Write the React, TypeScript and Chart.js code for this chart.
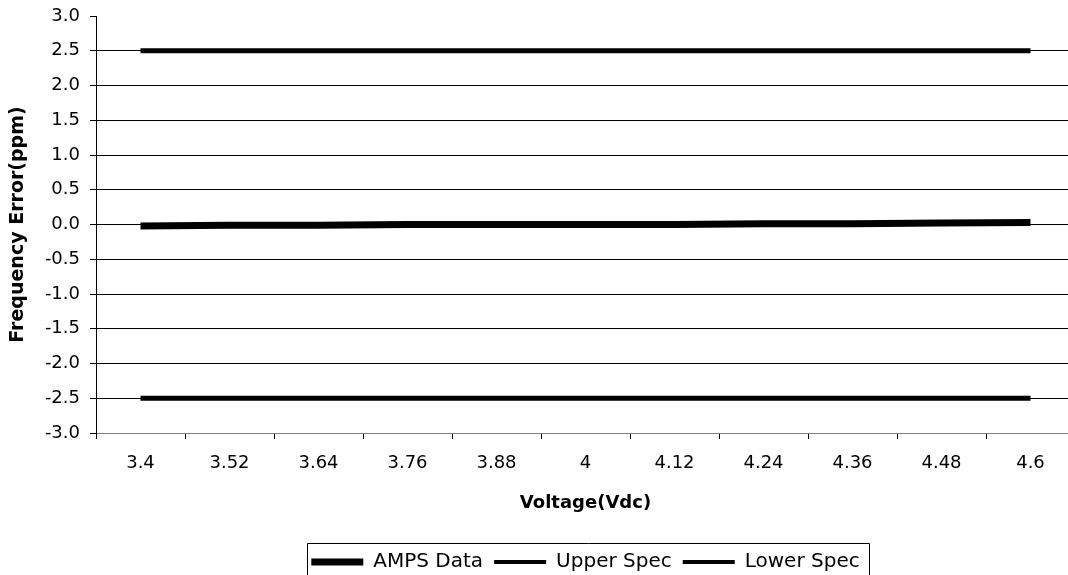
import React, { useEffect, useRef } from "react";
import { Chart, registerables } from "chart.js";

Chart.register(...registerables);

const voltages = ["3.4", "3.52", "3.64", "3.76", "3.88", "4", "4.12", "4.24", "4.36", "4.48", "4.6"];
const ampsData = [-0.02, -0.01, -0.01, 0, 0, 0, 0, 0.01, 0.01, 0.02, 0.03];
const upperSpec = [2.5, 2.5, 2.5, 2.5, 2.5, 2.5, 2.5, 2.5, 2.5, 2.5, 2.5];
const lowerSpec = [-2.5, -2.5, -2.5, -2.5, -2.5, -2.5, -2.5, -2.5, -2.5, -2.5, -2.5];
const seriesNames = ["AMPS Data", "Upper Spec", "Lower Spec"];
const legendLineWidths = [7, 4, 4];

const FONT = "'DejaVu Sans', 'Liberation Sans', Arial, sans-serif";

const legendBorder = {
  id: "legendBorder",
  afterDraw(chart: any) {
    const lg = chart.legend;
    if (!lg || !lg.legendHitBoxes || !lg.legendHitBoxes.length) return;
    const boxes = lg.legendHitBoxes;
    let minX = Infinity, maxX = -Infinity, minY = Infinity;
    boxes.forEach((b: any) => {
      minX = Math.min(minX, b.left);
      maxX = Math.max(maxX, b.left + b.width);
      minY = Math.min(minY, b.top);
    });
    const ctx = chart.ctx;
    ctx.save();
    ctx.strokeStyle = "#000";
    ctx.lineWidth = 1;
    ctx.beginPath();
    ctx.rect(Math.round(minX - 4) + 0.5, Math.round(minY - 9) + 0.5, Math.round(maxX - minX + 14), 60);
    ctx.stroke();
    ctx.restore();
  },
};

export default function App() {
  const ref = useRef<HTMLCanvasElement | null>(null);
  useEffect(() => {
    if (!ref.current) return;
    const chart = new Chart(ref.current, {
      type: "line",
      data: {
        labels: voltages,
        datasets: [
          { label: seriesNames[0], data: ampsData, borderColor: "#000", backgroundColor: "#000", borderWidth: 7, pointRadius: 0 },
          { label: seriesNames[1], data: upperSpec, borderColor: "#000", backgroundColor: "#000", borderWidth: 5, pointRadius: 0 },
          { label: seriesNames[2], data: lowerSpec, borderColor: "#000", backgroundColor: "#000", borderWidth: 5, pointRadius: 0 },
        ],
      },
      plugins: [legendBorder],
      options: {
        animation: false,
        responsive: false,
        maintainAspectRatio: false,
        layout: { padding: { left: 0, right: 1, top: 16, bottom: -7 } },
        plugins: {
          tooltip: { enabled: false },
          legend: {
            position: "bottom",
            fullSize: false,
            labels: {
              usePointStyle: true,
              pointStyleWidth: 52,
              padding: 11,
              color: "#000",
              font: { family: FONT, size: 20 },
              generateLabels(chart: any) {
                return chart.data.datasets.map((ds: any, i: number) => ({
                  text: ds.label,
                  fillStyle: "#000",
                  strokeStyle: "#000",
                  lineWidth: legendLineWidths[i],
                  pointStyle: "line",
                  hidden: false,
                  datasetIndex: i,
                  fontColor: "#000",
                }));
              },
            },
          },
        },
        scales: {
          x: {
            type: "category",
            offset: true,
            grid: { display: true, drawOnChartArea: false, offset: true, color: "#000", tickLength: 6, tickColor: "#000" },
            border: { color: "#808080", width: 1 },
            ticks: { color: "#000", font: { family: FONT, size: 18 }, padding: 14, maxRotation: 0, autoSkip: false },
            title: { display: true, text: "Voltage(Vdc)", color: "#000", font: { family: FONT, size: 18, weight: "bold" }, padding: { top: 0, bottom: 27 } },
            afterFit(scale: any) { scale.height = 108; scale.paddingLeft = 0; scale.paddingRight = 0; },
          },
          y: {
            min: -3,
            max: 3,
            grid: {
              color: (c: any) => (c.tick && c.tick.value === 3 ? "rgba(0,0,0,0)" : c.tick && c.tick.value === -3 ? "#808080" : "#000"),
              tickColor: "#000",
              tickLength: 6,
              lineWidth: 1,
            },
            border: { color: "#000", width: 1 },
            ticks: {
              stepSize: 0.5,
              color: "#000",
              padding: 10,
              font: { family: FONT, size: 18 },
              callback: (v: any) => Number(v).toFixed(1),
            },
            title: { display: true, text: "Frequency Error(ppm)", color: "#000", font: { family: FONT, size: 19, weight: "bold" }, padding: { top: 7, bottom: 0 } },
            afterFit(scale: any) { scale.width = 96; scale.paddingTop = 0; scale.paddingBottom = 0; },
          },
        },
      },
    });
    return () => chart.destroy();
  }, []);
  return (
    <div style={{ position: "fixed", left: 0, top: 0, width: 1068, height: 575, overflow: "hidden", background: "#fff" }}>
      <canvas ref={ref} width={1076} height={575} style={{ display: "block", width: 1076, height: 575 }} />
    </div>
  );
}
